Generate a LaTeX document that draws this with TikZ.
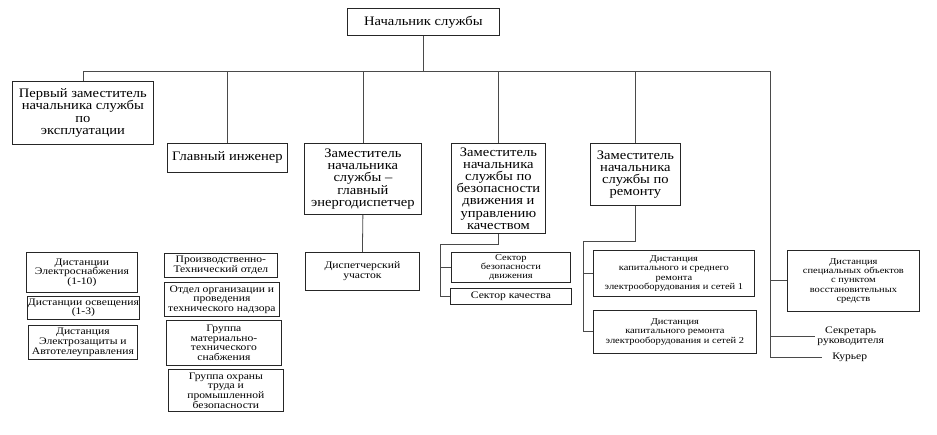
\documentclass[tikz,border=0pt]{standalone}
\usepackage{fontspec}
\setmainfont{Liberation Serif}
\newfontfamily\widefont[FakeStretch=1.12]{Liberation Serif}
\newfontfamily\widerfont[FakeStretch=1.16]{Liberation Serif}
\usetikzlibrary{positioning, calc}
\definecolor{linegray}{HTML}{4a4a4a}

\begin{document}
\begin{tikzpicture}[
    x=1pt, y=-1pt,
    line width=0.8pt, draw=linegray,
    headbox/.style={rectangle, draw=black!85, anchor=north west, align=center, inner sep=0.5pt, font=\widefont\fontsize{13}{12.2}\selectfont},
    unitbox/.style={rectangle, draw=black!85, anchor=north west, align=center, inner sep=0.5pt, font=\widerfont\fontsize{10}{9.6}\selectfont},
    smallbox/.style={rectangle, draw=black!85, anchor=north west, align=center, inner sep=0.5pt, font=\widerfont\fontsize{9}{9.3}\selectfont},
    plain/.style={anchor=west, align=center, inner sep=2pt, font=\widerfont\fontsize{10}{9.6}\selectfont}
]
\useasboundingbox (0,0) rectangle (937,435);

\node[headbox, minimum width=152, minimum height=27] (chief) at (347,8) {Начальник службы};

\node[headbox, minimum width=141, minimum height=63] (firstdep) at (12,81) {Первый заместитель\\начальника службы\\по\\эксплуатации};
\node[headbox, minimum width=120, minimum height=29] (chiefeng) at (167,143) {Главный инженер};
\node[headbox, minimum width=117, minimum height=71] (energo) at (304,143) {Заместитель\\начальника\\службы –\\главный\\энергодиспетчер};
\node[headbox, minimum width=94, minimum height=90] (safety) at (451,143) {Заместитель\\начальника\\службы по\\безопасности\\движения и\\управлению\\качеством};
\node[headbox, minimum width=90, minimum height=62] (repair) at (590,143) {Заместитель\\начальника\\службы по\\ремонту};

% left column
\node[unitbox, minimum width=111, minimum height=40] (supply) at (26,252) {Дистанции\\Электроснабжения\\(1-10)};
\node[unitbox, minimum width=110, minimum height=23] (light) at (27,296) {Дистанции освещения\\(1-3)};
\node[unitbox, minimum width=109, minimum height=34] (protect) at (28,325) {Дистанция\\Электрозащиты и\\Автотелеуправления};

% middle column
\node[unitbox, minimum width=113, minimum height=24] (pto) at (164,253) {Производственно-\\Технический отдел};
\node[unitbox, minimum width=115, minimum height=34] (survey) at (164,282) {Отдел организации и\\проведения\\технического надзора};
\node[unitbox, minimum width=115, minimum height=45] (supplygrp) at (166,320) {Группа\\материально-\\технического\\снабжения};
\node[unitbox, minimum width=115, minimum height=42] (labour) at (168,369) {Группа охраны\\труда и\\промышленной\\безопасности};

\node[unitbox, minimum width=114, minimum height=38] (dispatch) at (305,252) {Диспетчерский\\участок};

\node[smallbox, minimum width=119, minimum height=30] (sectsafe) at (451,252) {Сектор\\безопасности\\движения};
\node[unitbox, minimum width=121, minimum height=16] (sectqual) at (450,288) {Сектор качества};

\node[smallbox, minimum width=161, minimum height=46] (repone) at (593,250) {Дистанция\\капитального и среднего\\ремонта\\электрооборудования и сетей 1};
\node[smallbox, minimum width=163, minimum height=43] (reptwo) at (593,310) {Дистанция\\капитального ремонта\\электрооборудования и сетей 2};

\node[smallbox, minimum width=132, minimum height=61] (special) at (787,250) {Дистанция\\специальных объектов\\с пунктом\\восстановительных\\средств};
\node[plain] (secretary) at (815,336) {Секретарь\\руководителя};
\node[plain, inner xsep=10pt] (courier) at (822,357) {Курьер};

\coordinate (barR) at (770,71);
\coordinate (safL) at (440,244);
\coordinate (repL) at (583,241);

% connectors
\draw (chief.south) -- (chief.south |- barR);
\draw (firstdep.north) -- (firstdep.north |- barR) -- (barR) |- (courier.west);
\draw (chiefeng.north) -- (chiefeng.north |- barR);
\draw (energo.north) -- (energo.north |- barR);
\draw (safety.north) -- (safety.north |- barR);
\draw (repair.north) -- (repair.north |- barR);
\draw (energo.south) -- (dispatch.north);
\draw (safety.south) |- (safL) |- (sectqual.west);
\draw (safL |- sectsafe.west) -- (sectsafe.west);
\draw (repair.south) |- (repL) |- (reptwo.west);
\draw (repL |- repone.west) -- (repone.west);
\draw (barR |- special.west) -- (special.west);
\draw (barR |- secretary.west) -- (secretary.west);

\end{tikzpicture}
\end{document}
